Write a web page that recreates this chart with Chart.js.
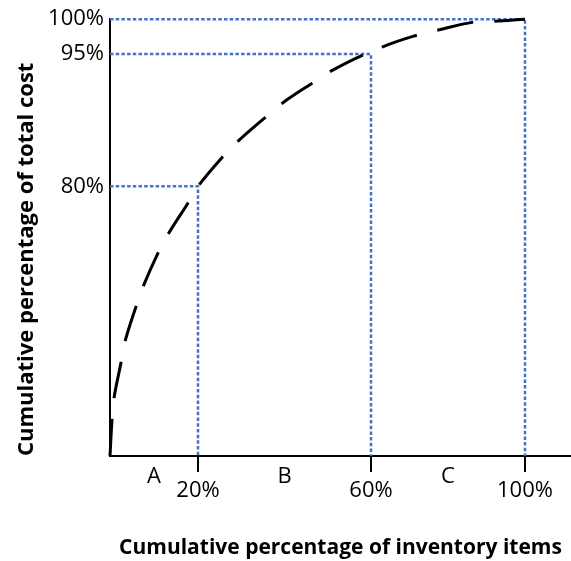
<!DOCTYPE html>
<html>
<head>
<meta charset="utf-8">
<title>ABC analysis curve</title>
<script src="https://cdn.jsdelivr.net/npm/chart.js@4.4.1/dist/chart.umd.min.js"></script>
<style>
  html, body { margin: 0; padding: 0; background: #fff; }
  canvas { display: block; }
</style>
</head>
<body>
<canvas id="abcChart" width="571" height="561"></canvas>
<script>
// ABC classes and where each one ends
var classNames = ['A', 'B', 'C'];
var itemShare = [20, 60, 100];   // cumulative % of inventory items
var costShare = [80, 95, 100];   // cumulative % of total cost

// dashed curve
var curveItems = [0, 0.45, 0.9, 2.5, 3.4, 5.9, 7.5, 10.9, 13.2, 17.7, 20,
                  25.8, 29.2, 35.5, 39.4, 46.4, 50.5, 58.2, 60,
                  62.9, 71.9, 77.1, 86.8, 91.9, 100];
var curveCost  = [0, 10.6, 17.1, 27.7, 33.9, 44.3, 50.2, 60.2, 65.8, 75.0, 80,
                  83.4, 85.1, 87.8, 89.4, 91.7, 93.0, 94.9, 95,
                  96.0, 97.7, 98.4, 99.6, 99.7, 100];

// the drawing is not to scale: where each value sits along its axis
var axisWarp = {
    x: { values: [0, 20, 60, 100, 112], fractions: [0, 88 / 461, 261 / 461, 415 / 461, 1] },
    y: { values: [0, 80, 95, 100], fractions: [0, 271 / 439, 404 / 439, 1] }
};

function interp(v, xs, ys) {
    for (var i = 1; i < xs.length; i++) {
        if (v <= xs[i] || i === xs.length - 1) {
            var t = (v - xs[i - 1]) / (xs[i] - xs[i - 1]);
            return ys[i - 1] + t * (ys[i] - ys[i - 1]);
        }
    }
}

// linear scale with piecewise stretch
class WarpScale extends Chart.LinearScale {
    getPixelForValue(value) {
        if (value === null || value === undefined || isNaN(value)) return NaN;
        var w = axisWarp[this.axis];
        return this.getPixelForDecimal(interp(value, w.values, w.fractions));
    }
    getValueForPixel(pixel) {
        var w = axisWarp[this.axis];
        return interp(this.getDecimalForPixel(pixel), w.fractions, w.values);
    }
}
WarpScale.id = 'warp';
WarpScale.defaults = Chart.LinearScale.defaults;
Chart.register(WarpScale);

var classMids = classNames.map(function (c, i) {
    return ((i === 0 ? 0 : itemShare[i - 1]) + itemShare[i]) / 2;
});
var xTickValues = classMids.concat(itemShare).sort(function (a, b) { return a - b; });

var fontFamily = '"Open Sans", "Noto Sans", sans-serif';

var datasets = [{
    data: curveItems.map(function (x, i) { return { x: x, y: curveCost[i] }; }),
    showLine: true,
    borderColor: '#000',
    borderWidth: 3,
    borderDash: [37, 21],
    pointRadius: 0,
    tension: 0.4,
    clip: false
}];
classNames.forEach(function (c, i) {
    datasets.push({
        data: [{ x: 0, y: costShare[i] }, { x: itemShare[i], y: costShare[i] }, { x: itemShare[i], y: 0 }],
        showLine: true,
        borderColor: '#4472C4',
        borderWidth: 2.5,
        borderDash: [3.5, 2.2],
        pointRadius: 0,
        tension: 0,
        clip: false
    });
});

var abcChart = new Chart(document.getElementById('abcChart').getContext('2d'), {
    type: 'scatter',
    data: { datasets: datasets },
    options: {
        responsive: false,
        animation: false,
        layout: { padding: { top: 17, left: 0, right: 0, bottom: 0 } },
        plugins: { legend: { display: false }, tooltip: { enabled: false } },
        scales: {
            x: {
                type: 'warp',
                min: 0,
                max: 112,
                afterFit: function (s) { s.height = 105; },
                afterBuildTicks: function (s) { s.ticks = xTickValues.map(function (v) { return { value: v }; }); },
                grid: {
                    drawOnChartArea: false,
                    drawTicks: true,
                    tickLength: 16,
                    lineWidth: 2,
                    color: function (ctx) {
                        return ctx.tick && itemShare.indexOf(ctx.tick.value) >= 0 ? '#000' : 'rgba(0,0,0,0)';
                    }
                },
                border: { color: '#000', width: 2 },
                ticks: {
                    autoSkip: false,
                    maxRotation: 0,
                    padding: -2,
                    color: '#000',
                    font: { family: fontFamily, size: 22, lineHeight: 0.64 },
                    callback: function (value) {
                        if (itemShare.indexOf(value) >= 0) return ['', value + '%'];
                        return [classNames[classMids.indexOf(value)], ''];
                    }
                },
                title: {
                    display: true,
                    text: 'Cumulative percentage of inventory items',
                    color: '#000',
                    font: { family: fontFamily, size: 21, weight: 'bold' },
                    padding: { top: 0, bottom: 0 }
                }
            },
            y: {
                type: 'warp',
                min: 0,
                max: 100,
                afterFit: function (s) { s.width = 110; },
                afterBuildTicks: function (s) { s.ticks = costShare.map(function (v) { return { value: v }; }); },
                grid: { drawOnChartArea: false, drawTicks: false },
                border: { color: '#000', width: 2 },
                ticks: {
                    padding: 6,
                    color: '#000',
                    font: { family: fontFamily, size: 22 },
                    callback: function (value) { return value + '%'; }
                },
                title: {
                    display: true,
                    align: 'start',
                    text: 'Cumulative percentage of total cost',
                    color: '#000',
                    font: { family: fontFamily, size: 22, weight: 'bold' },
                    padding: { top: 14, bottom: 0 }
                }
            }
        }
    }
});
</script>
</body>
</html>
